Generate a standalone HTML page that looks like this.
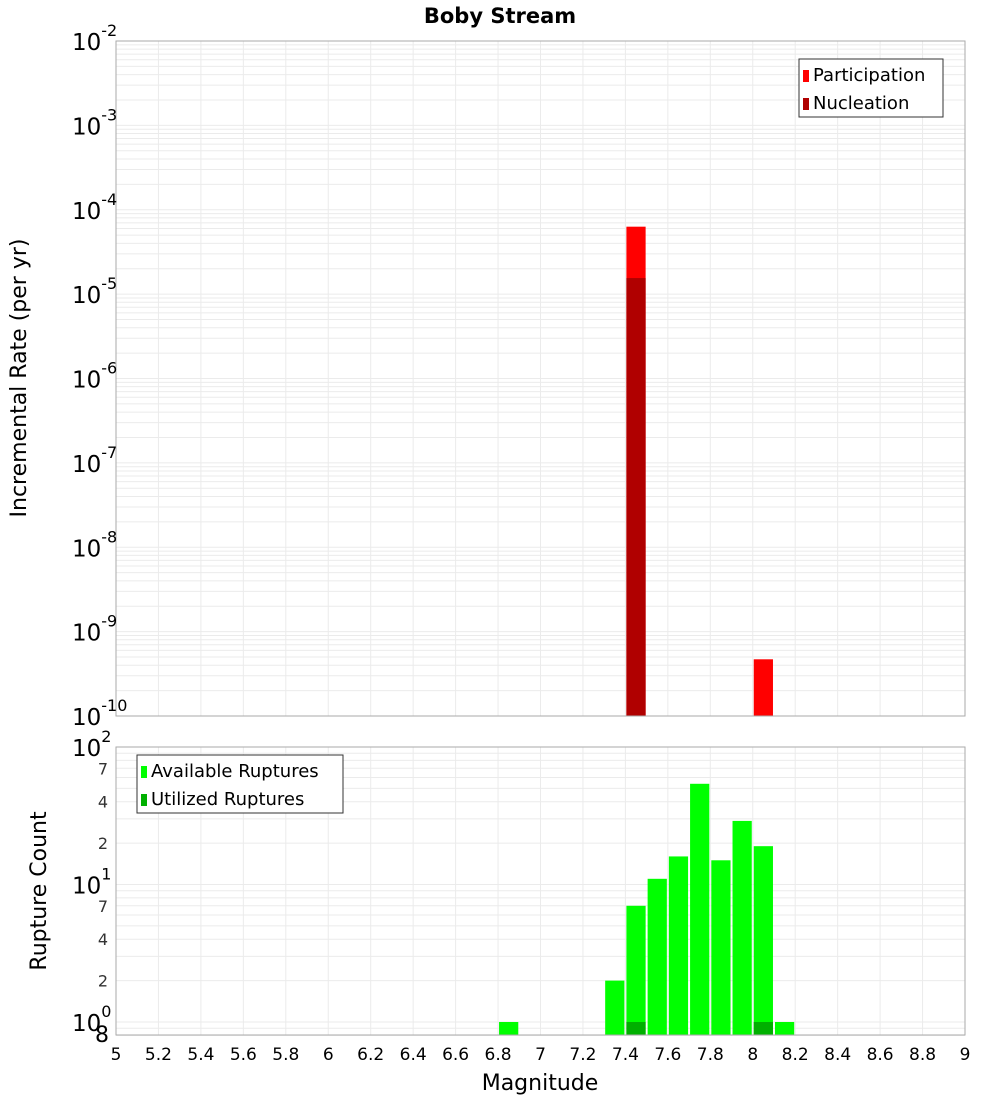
<!DOCTYPE html>
<html><head><meta charset="utf-8"><style>body{margin:0;background:#fff}svg{display:block;font-family:"DejaVu Sans","Liberation Sans",sans-serif}</style></head>
<body>
<svg id="c" width="1000" height="1100"></svg>
<script>
const binCenters=[6.85,7.35,7.45,7.55,7.65,7.75,7.85,7.95,8.05,8.15];
const partMags=[7.45,8.05];
const partVals=[6.3e-5,4.7e-10];
const nuclMags=[7.45];
const nuclVals=[1.55e-5];
const availVals=[1,2,7,11,16,54,15,29,19,1];
const utilMags=[7.45,8.05];
const utilVals=[1,1];
const xTicks=[5,5.2,5.4,5.6,5.8,6,6.2,6.4,6.6,6.8,7,7.2,7.4,7.6,7.8,8,8.2,8.4,8.6,8.8,9];
const topExps=[-10,-9,-8,-7,-6,-5,-4,-3,-2];

const svg=document.getElementById('c');const NS='http://www.w3.org/2000/svg';
function el(t,a,p){const e=document.createElementNS(NS,t);for(const k in a)e.setAttribute(k,a[k]);(p||svg).appendChild(e);return e;}
const X0=116,X1=965;
const xs=m=>X0+(m-5)/4*(X1-X0);
const T0=41,T1=716;const ys1=v=>T1-(Math.log10(v)+10)/8*(T1-T0);
const B0=747,B1=1035;const dec2=137.5;const ys2=v=>1022-Math.log10(v)*dec2;
const bw=0.1*(X1-X0)/4-2;

const g1=el('g',{});
for(const t of xTicks)el('line',{x1:xs(t),x2:xs(t),y1:T0,y2:T1,stroke:'#ebebeb'},g1);
for(let e=-10;e<-2;e++)for(let k=1;k<10;k++){const y=ys1(k*Math.pow(10,e));el('line',{x1:X0,x2:X1,y1:y,y2:y,stroke:'#ebebeb'},g1);}
const g2=el('g',{});
for(const t of xTicks)el('line',{x1:xs(t),x2:xs(t),y1:B0,y2:B1,stroke:'#ebebeb'},g2);
for(const v of [0.8,0.9,1,2,3,4,5,6,7,8,9,10,20,30,40,50,60,70,80,90]){const y=ys2(v);el('line',{x1:X0,x2:X1,y1:y,y2:y,stroke:'#ebebeb'},g2);}

partMags.forEach((m,i)=>{const y=ys1(partVals[i]);const r=el('rect',{x:xs(m)-bw/2,y:y,width:bw,height:T1-y,fill:'#ff0000'});});
nuclMags.forEach((m,i)=>{const y=ys1(nuclVals[i]);const r=el('rect',{x:xs(m)-bw/2,y:y,width:bw,height:T1-y,fill:'#b00000'});});
binCenters.forEach((m,i)=>{const y=ys2(availVals[i]);const r=el('rect',{x:xs(m)-bw/2,y:y,width:bw,height:B1-y,fill:'#00ff00'});});
utilMags.forEach((m,i)=>{const y=ys2(utilVals[i]);const r=el('rect',{x:xs(m)-bw/2,y:y,width:bw,height:B1-y,fill:'#00b000'});});

let f=el('rect',{x:X0,y:T0,width:X1-X0,height:T1-T0,fill:'none',stroke:'#aaa'});
f=el('rect',{x:X0,y:B0,width:X1-X0,height:B1-B0,fill:'none',stroke:'#aaa'});

let t=el('text',{x:500,y:23,'text-anchor':'middle','font-size':21,'font-weight':'bold'});t.textContent='Boby Stream';

for(const e of topExps){const y=ys1(Math.pow(10,e));const tx=el('text',{x:72,y:y+9,'font-size':23});
tx.textContent='10';const s=el('tspan',{dy:-14,'font-size':16},tx);s.textContent=String(e);}
t=el('text',{x:0,y:0,'font-size':22,'text-anchor':'middle',transform:'translate(26,378) rotate(-90)'});t.textContent='Incremental Rate (per yr)';

for(const [v,lab] of [[100,'2'],[10,'1'],[1,'0']]){const y=ys2(v);const tx=el('text',{x:72,y:y+9,'font-size':23});tx.textContent='10';const s=el('tspan',{dy:-14,'font-size':16},tx);s.textContent=lab;}
for(const v of [70,40,20,7,4,2]){const y=ys2(v);const tx=el('text',{x:108,y:y+6,'font-size':16,'text-anchor':'end',fill:'#333'});tx.textContent=String(v).charAt(0);}
t=el('text',{x:102,y:1042,'font-size':22,'text-anchor':'middle'});t.textContent='8';
t=el('text',{x:0,y:0,'font-size':22,'text-anchor':'middle',transform:'translate(46,891) rotate(-90)'});t.textContent='Rupture Count';

for(const v of xTicks){const tx=el('text',{x:xs(v),y:1060,'font-size':17,'text-anchor':'middle'});tx.textContent=String(v);}
t=el('text',{x:540,y:1090,'font-size':22,'text-anchor':'middle'});t.textContent='Magnitude';

function legend(x,y,w,items,name){const g=el('g',{});
el('rect',{x:x,y:y,width:w,height:58,fill:'#fff',stroke:'#333'},g);
items.forEach((it,i)=>{el('rect',{x:x+4,y:y+11+i*28,width:6,height:12,fill:it[1]},g);const tx=el('text',{x:x+14,y:y+22+i*28,'font-size':18},g);tx.textContent=it[0];});}
legend(799,59,144,[['Participation','#ff0000'],['Nucleation','#b00000']],'top-legend');
legend(137,755,206,[['Available Ruptures','#00ff00'],['Utilized Ruptures','#00b000']],'bottom-legend');
</script>
</body></html>
